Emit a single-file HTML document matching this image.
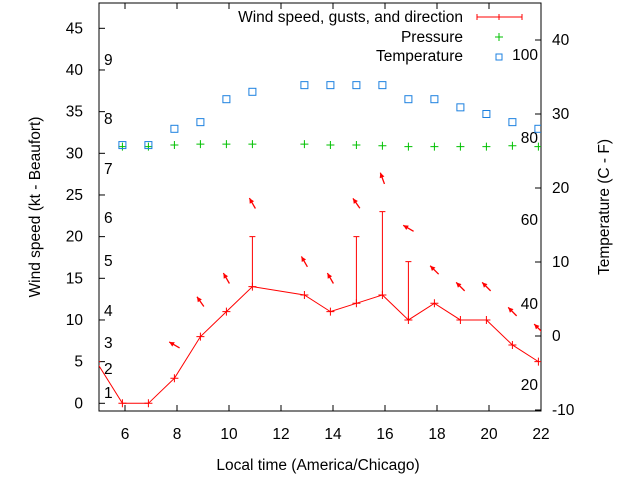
<!DOCTYPE html>
<html><head><meta charset="utf-8"><style>
body{margin:0;background:#fff}
svg{display:block;font-family:"Liberation Sans",sans-serif;font-size:15.5px}
</style></head><body>
<svg id="c" width="640" height="480" viewBox="0 0 640 480"></svg>
<script>
const hours=[4.9,5.9,6.9,7.9,8.9,9.9,10.9,12.9,13.9,14.9,15.9,16.9,17.9,18.9,19.9,20.9,21.9];
const wind=[5,0,0,3,8,11,14,13,11,12,13,10,12,10,10,7,5];
const gustHours=[10.9,14.9,15.9,16.9];
const gusts=[20,20,23,17];
const tempHours=[5.9,6.9,7.9,8.9,9.9,10.9,12.9,13.9,14.9,15.9,16.9,17.9,18.9,19.9,20.9,21.9];
const temps=[25.8,25.8,28,28.9,32,33,33.9,33.9,33.9,33.9,32,32,30.9,30,28.9,28];
const pressure=[30.8,30.8,31,31.1,31.1,31.1,31.1,31,31,30.9,30.8,30.8,30.8,30.8,30.9,30.8];
const arrowHours=[7.9,8.9,9.9,10.9,12.9,13.9,14.9,15.9,16.9,17.9,18.9,19.9,20.9,21.9];
const arrowLevel=[7,12.2,15,24,17,15,24,27,21,16,14,14,11,9];
const arrowDir=[300,325,330,330,330,330,325,340,300,315,315,315,315,315];
const xTicks=[6,8,10,12,14,16,18,20,22];
const yTicks=[0,5,10,15,20,25,30,35,40,45];
const y2Ticks=[-10,0,10,20,30,40];
const beaufort=[[1,393],[2,369],[3,343],[4,311],[5,261],[6,218],[7,169],[8,119],[9,60]];
const fahr=[[20,385],[40,304],[60,220],[80,138],[100,55]];

const L=99,R=541,T=3,B=411;
const X=h=>L+(h-5)*26;
const Y=v=>403.3-v*8.333;
const Y2=c=>336-c*7.4;
const svg=document.getElementById('c');
const NS='http://www.w3.org/2000/svg';
function mk(tag,attrs,parent){const e=document.createElementNS(NS,tag);for(const k in attrs)e.setAttribute(k,attrs[k]);(parent||svg).appendChild(e);return e;}
function txt(s,x,y,anchor,name,extra){const t=mk('text',Object.assign({x:x,y:y,'text-anchor':anchor||'start',fill:'#000'},extra||{}));t.textContent=s;


return t;}

const clip=mk('clipPath',{id:'pc'});mk('rect',{x:L,y:T,width:R-L,height:B-T},clip);
const frame=mk('rect',{x:L,y:T,width:R-L,height:B-T,fill:'none',stroke:'#000','stroke-width':1});



xTicks.forEach(h=>{const x=X(h);mk('line',{x1:x,y1:B,x2:x,y2:B-6,stroke:'#000'});mk('line',{x1:x,y1:T,x2:x,y2:T+6,stroke:'#000'});txt(h,x,439,'middle','x-tick-label');});
yTicks.forEach(v=>{const y=Y(v);mk('line',{x1:L,y1:y,x2:L+6,y2:y,stroke:'#000'});txt(v,83,y+5,'end','y-tick-label');});
y2Ticks.forEach(c=>{const y=Y2(c);mk('line',{x1:R,y1:y,x2:R-6,y2:y,stroke:'#000'});txt(c,552,y+5,'start','y2-tick-label');});
beaufort.forEach(b=>txt(b[0],104,b[1]+5,'start','beaufort-label'));
fahr.forEach(f=>txt(f[0],538,f[1]+5,'end','fahrenheit-label'));

txt('Local time (America/Chicago)',318,470,'middle','x-axis-title');
txt('Wind speed (kt - Beaufort)',40,207,'middle','y-axis-title',{transform:'rotate(-90 40 207)'});
txt('Temperature (C - F)',609,207,'middle','y2-axis-title',{transform:'rotate(-90 609 207)'});

const g=mk('g',{'clip-path':'url(#pc)'});
pressure.forEach((p,i)=>{const x=X(tempHours[i]),y=Y(p);const m=mk('path',{d:`M${x-4},${y}h8M${x},${y-4}v8`,stroke:'#00c000','stroke-width':1},g);

});
temps.forEach((t,i)=>{const x=X(tempHours[i]),y=Y2(t);const m=mk('rect',{x:x-3.5,y:y-3.5,width:7,height:7,fill:'none',stroke:'#1c80e0','stroke-width':1},g);

});
const wl=mk('polyline',{points:hours.map((h,i)=>X(h)+','+Y(wind[i])).join(' '),fill:'none',stroke:'#f00','stroke-width':1},g);


hours.forEach((h,i)=>{const x=X(h),y=Y(wind[i]);const m=mk('path',{d:`M${x-4},${y}h8M${x},${y-4}v8`,stroke:'#f00','stroke-width':1},g);

});
gustHours.forEach((h,i)=>{const x=X(h);const w=wind[hours.indexOf(h)];const m=mk('path',{d:`M${x},${Y(w)}V${Y(gusts[i])}M${x-3},${Y(gusts[i])}h6`,stroke:'#f00','stroke-width':1},g);

});
arrowHours.forEach((h,i)=>{const cx=X(h),cy=Y(arrowLevel[i]);const a=arrowDir[i]*Math.PI/180;const dx=Math.sin(a)*6,dy=-Math.cos(a)*6;
const hx=cx+dx,hy=cy+dy,tx=cx-dx,ty=cy-dy;const ux=dx/6,uy=dy/6;
const p1x=hx-ux*5+uy*2.5,p1y=hy-uy*5-ux*2.5,p2x=hx-ux*5-uy*2.5,p2y=hy-uy*5+ux*2.5;
const ag=mk('g',{},g);


mk('line',{x1:tx,y1:ty,x2:hx,y2:hy,stroke:'#f00','stroke-width':1.3},ag);
mk('path',{d:`M${hx},${hy}L${p1x},${p1y}L${p2x},${p2y}Z`,fill:'#f00'},ag);});

txt('Wind speed, gusts, and direction',463,22,'end','legend-wind-label');
const lw=mk('path',{d:'M477,17h45M477,14v6M499,14v6M522,14v6',stroke:'#f00','stroke-width':1});


txt('Pressure',463,42,'end','legend-pressure-label');
const lp=mk('path',{d:'M495,37h8M499,33v8',stroke:'#00c000'});


txt('Temperature',463,61,'end','legend-temperature-label');
const lt=mk('rect',{x:496,y:54,width:6,height:6,fill:'none',stroke:'#1c80e0'});


</script>
</body></html>
